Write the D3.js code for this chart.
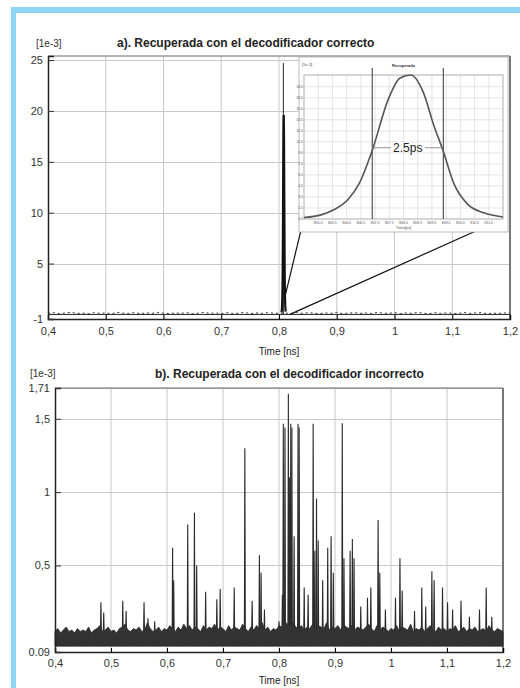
<!DOCTYPE html>
<html>
<head>
<meta charset="utf-8">
<script src="https://cdn.jsdelivr.net/npm/d3@7"></script>
<style>
body { margin: 0; background: #fff; }
svg { display: block; font-family: "Liberation Sans", Arial, sans-serif; }
</style>
</head>
<body>
<svg id="chart" width="520" height="688"></svg>
<script>
// ---- data (power in units of 1e-3, time in ns / ps) ----
let xTicks = [0.4, 0.5, 0.6, 0.7, 0.8, 0.9, 1.0, 1.1, 1.2]
let xTickLabels = ['0,4', '0,5', '0,6', '0,7', '0,8', '0,9', '1', '1,1', '1,2']

let yTicksA = [-0.45, 5, 10, 15, 20, 25]
let yTickLabelsA = ['-1', '5', '10', '15', '20', '25']
let yTicksB = [-0.09, 0.5, 1, 1.5, 1.71]
let yTickLabelsB = ['0.09', '0,5', '1', '1,5', '1,71']

// recovered pulse (inset), ps
let pulseTime = [804.5, 805.1, 805.55, 806.05, 806.43, 806.9, 807.45, 807.88, 808.26, 808.69, 809.07, 809.39, 809.78, 810.27, 810.83, 811.5]
let pulsePower = [0.2, 0.56, 1.25, 2.65, 4.74, 9.33, 16.15, 19.2, 19.6, 17.3, 12.7, 9.33, 4.74, 1.95, 0.84, 0.28]
let fwhmMarks = [806.9, 809.4]
let markerA = 0.8075

// floor noise of chart a), one value every 0.01 ns from 0.4
let noiseA = [0.1, 0.25, 0.05, 0.2, 0.3, 0.1, 0.15, 0.05, 0.25, 0.1,
  0.2, 0.05, 0.3, 0.15, 0.1, 0.25, 0.05, 0.2, 0.1, 0.3,
  0.15, 0.05, 0.2, 0.1, 0.25, 0.05, 0.15, 0.3, 0.1, 0.2,
  0.05, 0.25, 0.1, 0.15, 0.3, 0.05, 0.2, 0.1, 0.25, 0.15,
  0.1, 0.2, 0.05, 0.3, 0.1, 0.25, 0.15, 0.05, 0.2, 0.1,
  0.3, 0.05, 0.15, 0.25, 0.1, 0.2, 0.05, 0.3, 0.15, 0.1,
  0.25, 0.05, 0.2, 0.1, 0.3, 0.15, 0.05, 0.25, 0.1, 0.2,
  0.15, 0.05, 0.3, 0.1, 0.2, 0.25, 0.05, 0.15, 0.1, 0.2, 0.1]

// noise band of chart b), upper edge every 0.005 ns from 0.4
let noiseUpperB = [0.05, 0.07, 0.04, 0.06, 0.08, 0.05, 0.06, 0.04, 0.07, 0.05,
  0.06, 0.05, 0.08, 0.04, 0.06, 0.07, 0.09, 0.05, 0.06, 0.08,
  0.05, 0.06, 0.04, 0.07, 0.08, 0.10, 0.06, 0.05, 0.07, 0.06,
  0.08, 0.05, 0.06, 0.11, 0.07, 0.05, 0.06, 0.08, 0.05, 0.07,
  0.06, 0.09, 0.07, 0.05, 0.08, 0.06, 0.10, 0.07, 0.09, 0.06,
  0.08, 0.07, 0.05, 0.09, 0.06, 0.08, 0.07, 0.10, 0.06, 0.08,
  0.07, 0.05, 0.09, 0.06, 0.08, 0.07, 0.06, 0.10, 0.07, 0.05,
  0.08, 0.06, 0.09, 0.07, 0.11, 0.06, 0.08, 0.05, 0.07, 0.06,
  0.09, 0.08, 0.12, 0.10, 0.09, 0.11, 0.08, 0.07, 0.09, 0.06,
  0.08, 0.07, 0.10, 0.06, 0.09, 0.08, 0.07, 0.11, 0.06, 0.08,
  0.07, 0.09, 0.06, 0.10, 0.08, 0.07, 0.09, 0.06, 0.08, 0.07,
  0.06, 0.08, 0.10, 0.07, 0.05, 0.09, 0.06, 0.08, 0.07, 0.05,
  0.07, 0.06, 0.09, 0.05, 0.08, 0.07, 0.06, 0.10, 0.05, 0.07,
  0.06, 0.08, 0.05, 0.07, 0.09, 0.06, 0.05, 0.08, 0.06, 0.07,
  0.05, 0.07, 0.06, 0.09, 0.05, 0.06, 0.08, 0.05, 0.07, 0.06,
  0.08, 0.05, 0.06, 0.07, 0.05, 0.09, 0.06, 0.05, 0.07, 0.06, 0.05]
let noiseLowB = -0.05

// spikes of chart b)
let spikeTime = [0.482, 0.487, 0.521, 0.527, 0.559, 0.566, 0.578, 0.610, 0.612, 0.637,
  0.649, 0.653, 0.669, 0.689, 0.695, 0.720, 0.739, 0.752, 0.765, 0.768,
  0.774, 0.800, 0.806, 0.8077, 0.8107, 0.8167, 0.819, 0.821, 0.823, 0.827,
  0.834, 0.836, 0.845, 0.852, 0.861, 0.864, 0.867, 0.870, 0.878, 0.887,
  0.893, 0.897, 0.913, 0.916, 0.927, 0.931, 0.934, 0.946, 0.958, 0.964,
  0.977, 0.980, 0.990, 1.008, 1.016, 1.020, 1.042, 1.055, 1.062, 1.073,
  1.077, 1.092, 1.101, 1.110, 1.125, 1.140, 1.158, 1.170, 1.180]
let spikePeak = [0.25, 0.18, 0.26, 0.19, 0.25, 0.14, 0.12, 0.62, 0.40, 0.78,
  0.86, 0.50, 0.32, 0.27, 0.34, 0.35, 1.30, 0.26, 0.57, 0.45,
  0.20, 0.12, 0.30, 1.466, 1.44, 1.67, 1.10, 1.466, 1.44, 0.70,
  1.466, 1.44, 0.35, 0.30, 1.466, 0.60, 0.956, 0.67, 0.40, 0.62,
  0.70, 0.45, 1.47, 0.55, 0.60, 0.68, 0.55, 0.22, 0.28, 0.35,
  0.81, 0.45, 0.20, 0.28, 0.55, 0.33, 0.19, 0.35, 0.22, 0.46,
  0.40, 0.35, 0.25, 0.20, 0.26, 0.15, 0.20, 0.35, 0.15]

// ---- page ----
let svg = d3.select('#chart')

svg.append('rect').attr('x', 11).attr('y', 7).attr('width', 509).attr('height', 6).style('fill', '#8dd6f6')
svg.append('rect').attr('x', 11).attr('y', 7).attr('width', 5).attr('height', 681).style('fill', '#8dd6f6')

function panel(opts) {
  let g = svg.append('g')
  let x = d3.scaleLinear().domain([0.4, 1.2]).range([opts.left, opts.right])
  let y = d3.scaleLinear().domain(opts.yDomain).range([opts.bottom, opts.top])

  // grid
  g.selectAll('.vg').data(xTicks.slice(1, -1)).enter().append('line')
    .attr('x1', d => x(d)).attr('x2', d => x(d))
    .attr('y1', opts.top).attr('y2', opts.bottom)
    .style('stroke', '#c8c8c8')
  g.selectAll('.hg').data(opts.yTicks.slice(1)).enter().append('line')
    .attr('x1', opts.left).attr('x2', opts.right)
    .attr('y1', d => Math.round(y(d)) + 0.5).attr('y2', d => Math.round(y(d)) + 0.5)
    .style('stroke', '#c8c8c8')

  // frame top/right
  g.append('line').attr('x1', opts.left).attr('x2', opts.right).attr('y1', opts.top).attr('y2', opts.top)
    .style('stroke', '#666')
  g.append('line').attr('x1', opts.right).attr('x2', opts.right).attr('y1', opts.top).attr('y2', opts.bottom)
    .style('stroke', '#777').style('stroke-width', 2)

  return {g, x, y}
}

function axes(p, opts) {
  let ax = p.g.append('g')
    .attr('transform', `translate(0, ${opts.bottom})`)
    .call(d3.axisBottom(p.x).tickValues(xTicks).tickFormat((d, i) => xTickLabels[i]).tickSize(-4).tickPadding(opts.xPad))
  ax.select('.domain').style('stroke', '#222').style('stroke-width', 1.5)
  ax.selectAll('text').style('font-size', '11px').style('fill', '#333').style('font-family', 'Liberation Sans, Arial')

  let ay = p.g.append('g')
    .attr('transform', `translate(${opts.left}, 0)`)
    .call(d3.axisLeft(p.y).tickValues(opts.yTicks).tickFormat((d, i) => opts.yLabels[i]).tickSize(-6).tickPadding(5))
  ay.select('.domain').style('stroke', '#222').style('stroke-width', 1.5)
  ay.selectAll('line').style('stroke', '#333')
  ay.selectAll('text').style('font-size', '11px').style('fill', '#333').style('font-family', 'Liberation Sans, Arial')

  p.g.append('text')
    .attr('x', (opts.left + opts.right) / 2).attr('y', opts.xTitleY)
    .attr('text-anchor', 'middle')
    .style('font-size', '10px').style('fill', '#222')
    .text('Time [ns]')
}

// ---------- a) ----------
let optA = {left: 48, right: 510, top: 56, bottom: 319, yDomain: [-0.45, 25.4], yTicks: yTicksA, yLabels: yTickLabelsA, xPad: 8, xTitleY: 355}
let pa = panel(optA)

svg.append('text').attr('x', 36).attr('y', 47).style('font-size', '10px').style('fill', '#333').text('[1e-3]')
svg.append('text').attr('x', 117).attr('y', 47).style('font-size', '12px').style('font-weight', 'bold').style('fill', '#222')
  .text('a). Recuperada con el decodificador correcto')

// floor
pa.g.append('line').attr('x1', pa.x(0.4)).attr('x2', pa.x(1.2)).attr('y1', pa.y(0)).attr('y2', pa.y(0))
  .style('stroke', '#222')
pa.g.append('path')
  .datum(noiseA)
  .attr('d', d3.line().x((d, i) => pa.x(0.4 + i * 0.01)).y(d => pa.y(d * 0.5 + 0.05)))
  .style('fill', 'none').style('stroke', '#333').style('stroke-dasharray', '2,3')

// marker and pulse
pa.g.append('line').attr('x1', pa.x(markerA)).attr('x2', pa.x(markerA)).attr('y1', pa.y(0)).attr('y2', pa.y(24.7))
  .style('stroke', '#222')
pa.g.append('path')
  .datum(pulseTime.map((t, i) => [t / 1000, pulsePower[i]]))
  .attr('d', d3.line().x(d => pa.x(d[0])).y(d => pa.y(d[1])))
  .style('fill', 'none').style('stroke', '#111').style('stroke-width', 2.2)

// inset
let ins = {left: 304, right: 503, top: 75, bottom: 219}
let ix = d3.scaleLinear().domain([804.5, 811.5]).range([ins.left, ins.right])
let iy = d3.scaleLinear().domain([0, 19.6]).range([ins.bottom, ins.top])

// connectors
pa.g.append('line').attr('x1', pa.x(0.8104)).attr('y1', pa.y(1.75)).attr('x2', ix(804.5)).attr('y2', iy(0.2))
  .style('stroke', '#111').style('stroke-width', 1.2)
pa.g.append('line').attr('x1', pa.x(0.819)).attr('y1', pa.y(0)).attr('x2', ix(811.5) + 4).attr('y2', iy(0.28))
  .style('stroke', '#111').style('stroke-width', 1.2)

let gi = svg.append('g')
gi.append('rect').attr('x', 299).attr('y', 57).attr('width', 209).attr('height', 175)
  .style('fill', '#fff').style('stroke', '#aaa').style('stroke-width', 0.8)

let ixTicks = d3.range(805, 811.5, 0.5)
let iyTicks = d3.range(1.5, 19.5, 1.5)
gi.selectAll('.ivg').data(ixTicks).enter().append('line')
  .attr('x1', d => ix(d)).attr('x2', d => ix(d)).attr('y1', ins.top).attr('y2', ins.bottom)
  .style('stroke', '#ddd').style('stroke-width', 0.8)
gi.selectAll('.ihg').data(iyTicks).enter().append('line')
  .attr('x1', ins.left).attr('x2', ins.right).attr('y1', d => iy(d)).attr('y2', d => iy(d))
  .style('stroke', '#ddd').style('stroke-width', 0.8)
gi.append('rect').attr('x', ins.left).attr('y', ins.top).attr('width', ins.right - ins.left).attr('height', ins.bottom - ins.top)
  .style('fill', 'none').style('stroke', '#999').style('stroke-width', 0.8)
gi.selectAll('.ixl').data(ixTicks).enter().append('text')
  .attr('x', d => ix(d)).attr('y', ins.bottom + 5).attr('text-anchor', 'middle')
  .style('font-size', '3.5px').style('fill', '#555').text(d => d.toFixed(1))
gi.selectAll('.iyl').data([0].concat(iyTicks)).enter().append('text')
  .attr('x', ins.left - 1).attr('y', d => iy(d) + 1).attr('text-anchor', 'end')
  .style('font-size', '3.5px').style('fill', '#555').text(d => d.toFixed(1))
gi.append('text').attr('x', (ins.left + ins.right) / 2).attr('y', ins.bottom + 10).attr('text-anchor', 'middle')
  .style('font-size', '4px').style('fill', '#555').text('Time[ps]')
gi.append('text').attr('x', (ins.left + ins.right) / 2).attr('y', 67).attr('text-anchor', 'middle')
  .style('font-size', '4px').style('font-weight', 'bold').style('fill', '#333').text('Recuperada')
gi.append('text').attr('x', 302).attr('y', 66)
  .style('font-size', '4px').style('fill', '#555').text('[1e-3]')

// fwhm markers
gi.selectAll('.fm').data(fwhmMarks).enter().append('line')
  .attr('x1', d => ix(d)).attr('x2', d => ix(d)).attr('y1', 68).attr('y2', ins.bottom)
  .style('stroke', '#333').style('stroke-width', 1)
gi.append('path')
  .datum(pulseTime.map((t, i) => [t, pulsePower[i]]))
  .attr('d', d3.line().curve(d3.curveMonotoneX).x(d => ix(d[0])).y(d => iy(d[1])))
  .style('fill', 'none').style('stroke', '#555').style('stroke-width', 1.6)
let half = 9.7
let mid = (fwhmMarks[0] + fwhmMarks[1]) / 2
gi.append('line').attr('x1', ix(fwhmMarks[0])).attr('x2', ix(mid) - 17).attr('y1', iy(half)).attr('y2', iy(half))
  .style('stroke', '#777').style('stroke-width', 0.8)
gi.append('line').attr('x1', ix(mid) + 17).attr('x2', ix(fwhmMarks[1])).attr('y1', iy(half)).attr('y2', iy(half))
  .style('stroke', '#777').style('stroke-width', 0.8)
gi.append('text').attr('x', ix(mid)).attr('y', iy(half) + 4).attr('text-anchor', 'middle')
  .style('font-size', '12px').style('fill', '#222').text('2.5ps')

axes(pa, optA)

// ---------- b) ----------
let optB = {left: 55, right: 503, top: 388, bottom: 652, yDomain: [-0.09, 1.71], yTicks: yTicksB, yLabels: yTickLabelsB, xPad: 7, xTitleY: 684}
let pb = panel(optB)

svg.append('text').attr('x', 30).attr('y', 377).style('font-size', '10px').style('fill', '#333').text('[1e-3]')
svg.append('text').attr('x', 155).attr('y', 378).style('font-size', '12px').style('font-weight', 'bold').style('fill', '#222')
  .text('b). Recuperada con el decodificador incorrecto')

// spikes
pb.g.selectAll('.spike')
  .data(spikeTime.map((t, i) => [t, spikePeak[i]]))
  .enter()
  .append('path')
  .attr('d', d => `M${pb.x(d[0] - 0.0008)},${pb.y(0.03)}L${pb.x(d[0])},${pb.y(d[1])}L${pb.x(d[0] + 0.0008)},${pb.y(0.03)}Z`)
  .style('fill', '#666').style('stroke', '#2a2a2a').style('stroke-width', 1.1)

// noise band
pb.g.append('path')
  .datum(noiseUpperB)
  .attr('d', d3.area()
    .x((d, i) => pb.x(0.4 + i * 0.005))
    .y0(pb.y(noiseLowB))
    .y1(d => pb.y(d)))
  .style('fill', '#333').style('stroke', '#2a2a2a').style('stroke-width', 0.8)

axes(pb, optB)
</script>
</body>
</html>
